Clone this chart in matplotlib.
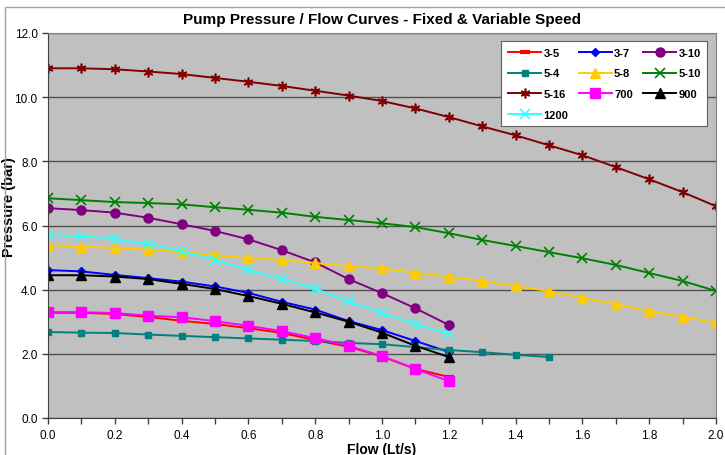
import matplotlib.pyplot as plt
import matplotlib.patches as patches
import numpy as np

plt.rcParams['font.family'] = ['Liberation Sans Narrow', 'Liberation Sans', 'DejaVu Sans']

# -----------------------
# Data (flow in Lt/s, pressure in bar)
# -----------------------
flow_short = [0.0, 0.1, 0.2, 0.3, 0.4, 0.5, 0.6, 0.7, 0.8, 0.9, 1.0, 1.1, 1.2]
flow_54 = [0.0, 0.1, 0.2, 0.3, 0.4, 0.5, 0.6, 0.7, 0.8, 0.9, 1.0, 1.1, 1.2,
           1.3, 1.4, 1.5]
flow_long = [0.0, 0.1, 0.2, 0.3, 0.4, 0.5, 0.6, 0.7, 0.8, 0.9, 1.0, 1.1, 1.2,
             1.3, 1.4, 1.5, 1.6, 1.7, 1.8, 1.9, 2.0]

p_3_5 = [3.28, 3.28, 3.24, 3.15, 3.03, 2.93, 2.80, 2.65, 2.43, 2.22, 1.92, 1.53, 1.28]
p_3_7 = [4.61, 4.57, 4.46, 4.36, 4.25, 4.10, 3.90, 3.62, 3.38, 3.02, 2.74, 2.40, 2.06]
p_3_10 = [6.54, 6.48, 6.40, 6.24, 6.04, 5.83, 5.57, 5.23, 4.85, 4.33, 3.89, 3.42, 2.90]
p_5_4 = [2.68, 2.66, 2.65, 2.60, 2.56, 2.52, 2.48, 2.44, 2.40, 2.34, 2.30, 2.21, 2.12,
         2.05, 1.97, 1.90]
p_5_8 = [5.38, 5.34, 5.30, 5.24, 5.17, 5.08, 4.98, 4.93, 4.83, 4.74, 4.66, 4.53, 4.40,
         4.27, 4.11, 3.96, 3.75, 3.55, 3.34, 3.15, 2.98]
p_5_10 = [6.85, 6.79, 6.73, 6.70, 6.66, 6.57, 6.49, 6.40, 6.27, 6.17, 6.07, 5.95, 5.76,
          5.55, 5.36, 5.17, 4.98, 4.77, 4.52, 4.27, 3.96]
p_5_16 = [10.90, 10.90, 10.87, 10.80, 10.72, 10.60, 10.48, 10.35, 10.20, 10.05, 9.88,
          9.65, 9.38, 9.09, 8.81, 8.50, 8.19, 7.82, 7.44, 7.04, 6.60]
p_700 = [3.30, 3.30, 3.27, 3.19, 3.14, 3.02, 2.87, 2.71, 2.49, 2.25, 1.93, 1.53, 1.15]
p_900 = [4.45, 4.45, 4.41, 4.33, 4.18, 4.02, 3.80, 3.56, 3.29, 3.00, 2.66, 2.25, 1.90]
p_1200 = [5.70, 5.67, 5.58, 5.42, 5.20, 4.93, 4.61, 4.34, 4.02, 3.64, 3.27, 2.93, 2.62]

labels = ["3-5", "3-7", "3-10", "5-4", "5-8", "5-10", "5-16", "700", "900", "1200"]
xs = [flow_short, flow_short, flow_short, flow_54, flow_long, flow_long, flow_long,
      flow_short, flow_short, flow_short]
ys = [p_3_5, p_3_7, p_3_10, p_5_4, p_5_8, p_5_10, p_5_16, p_700, p_900, p_1200]

# style per series: colour, marker, marker size, marker edge width
styles = [
    ("#ff0000", "_", 7, 3.0),
    ("#0000ff", "D", 4.5, 1.0),
    ("#800080", "o", 6.5, 1.0),
    ("#008080", "s", 4.5, 1.0),
    ("#ffcc00", "^", 7, 1.0),
    ("#008000", "x", 6.5, 1.2),
    ("#800000", (6, 2, 0), 7, 1.2),
    ("#ff00ff", "s", 6.5, 1.0),
    ("#000000", "^", 7, 1.0),
    ("#33ffff", "x", 7, 1.2),
]

# -----------------------
# Plot
# -----------------------
fig = plt.figure(figsize=(7.25, 4.56), dpi=100)
ax = fig.add_axes([48 / 725, 1 - 419 / 456, 668 / 725, 385 / 456])
ax.set_facecolor("#c0c0c0")

# outer chart border
fig.patches.append(patches.Rectangle((5 / 725, -0.05), 1.0, 1 - 8 / 456 + 0.05,
                                     transform=fig.transFigure, fill=False,
                                     edgecolor="#a0a0a0", linewidth=1.0))

handles = []
for x, y, lab, (c, m, ms, mew) in zip(xs, ys, labels, styles):
    h, = ax.plot(x, y, color=c, marker=m, markersize=ms, markeredgewidth=mew,
                 markerfacecolor=c, markeredgecolor=c, linewidth=1.4, label=lab)
    handles.append(h)

ax.set_xlim(0, 2.0)
ax.set_ylim(0, 12)
ax.set_xticks(np.arange(0, 2.01, 0.2))
ax.set_xticks(np.arange(0.1, 2.0, 0.2), minor=True)
ax.set_xticklabels([f"{v:.1f}" for v in np.arange(0, 2.01, 0.2)])
ax.set_yticks(np.arange(0, 12.1, 2))
ax.set_yticklabels([f"{v:.1f}" for v in np.arange(0, 12.1, 2)])
ax.tick_params(axis="both", which="both", direction="out", length=4, width=1,
               labelsize=8.5, color="#404040")
ax.tick_params(axis="x", pad=4)
ax.grid(axis="y", color="#505050", linewidth=1.0)
ax.set_axisbelow(True)

for s in ["top", "right"]:
    ax.spines[s].set_color("#808080")
for s in ["left", "bottom"]:
    ax.spines[s].set_color("#404040")

ax.set_title("Pump Pressure / Flow Curves - Fixed & Variable Speed",
             fontsize=11, fontweight="bold", pad=7)
ax.set_xlabel("Flow (Lt/s)", fontsize=10, fontweight="bold", va="center")
ax.xaxis.set_label_coords(0.5, -0.08)
ax.set_ylabel("Pressure (bar)", fontsize=10.5, fontweight="bold")
ax.yaxis.set_label_coords(-0.048, 0.55)

# legend, reordered so the 3-column layout reads row by row
order = [0, 3, 6, 9, 1, 4, 7, 2, 5, 8]
leg = ax.legend([handles[i] for i in order], [labels[i] for i in order],
                ncol=3, loc="upper right", bbox_to_anchor=(0.9955, 0.993),
                fancybox=False, framealpha=1, edgecolor="#606060",
                prop={"weight": "bold", "size": 8},
                handlelength=3.0, columnspacing=0.9, labelspacing=0.95,
                handletextpad=0.2, borderpad=0.6)
leg.get_frame().set_linewidth(0.8)

fig.savefig("out.png", dpi=100)
